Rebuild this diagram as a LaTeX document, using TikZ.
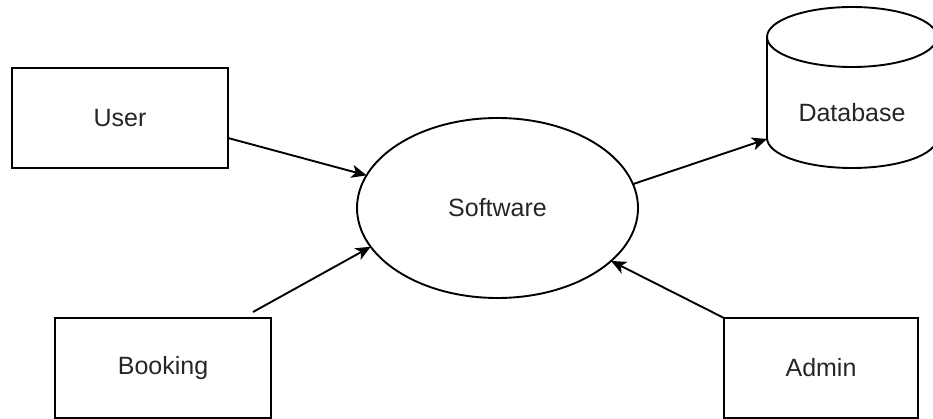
\documentclass[tikz,border=0pt]{standalone}
\usepackage{fontspec}
\setmainfont{Liberation Sans}
\usetikzlibrary{shapes.geometric,arrows.meta,calc}
\begin{document}
\begin{tikzpicture}[x=1pt,y=-1pt,
  every node/.style={font=\fontsize{25}{30}\selectfont, text=black!85},
  boxst/.style={draw, line width=1.9pt, rectangle, inner sep=0pt, outer sep=0pt},
  ellst/.style={draw, line width=1.9pt, ellipse, inner sep=0pt, outer sep=0pt, minimum width=281pt, minimum height=180pt},
  arr/.style={line width=1.9pt, -{Stealth[length=15pt,width=13pt,inset=4pt]}}]
\useasboundingbox (0,0) rectangle (933,419);
% boxes
\node[boxst, minimum width=216pt, minimum height=100pt] (user) at (120,118) {User};
\node[boxst, minimum width=216pt, minimum height=100pt] (booking) at (163,368) {Booking};
\node[boxst, minimum width=194pt, minimum height=100pt] (admin) at (821,368) {Admin};
\node[ellst] (sw) at (497.5,208) {Software};
% database cylinder
\draw[line width=1.9pt, fill=white] (767,37) -- (767,138) arc[start angle=180, end angle=360, x radius=85, y radius=-30] -- (937,37);
\draw[line width=1.9pt] (852,37) ellipse [x radius=85, y radius=30];
\node (db) at (852,113) {Database};
\coordinate (dbin) at (767,139);
% connectors
\draw[arr] ($(user.east)+(0,20)$) -- (sw.166);
\draw[arr] ($(booking.north east)+(-18,-6)$) -- (sw.197);
\draw[arr] (admin.north west) -- (sw.335);
\draw[arr] (sw.10) -- (dbin);
\end{tikzpicture}
\end{document}
